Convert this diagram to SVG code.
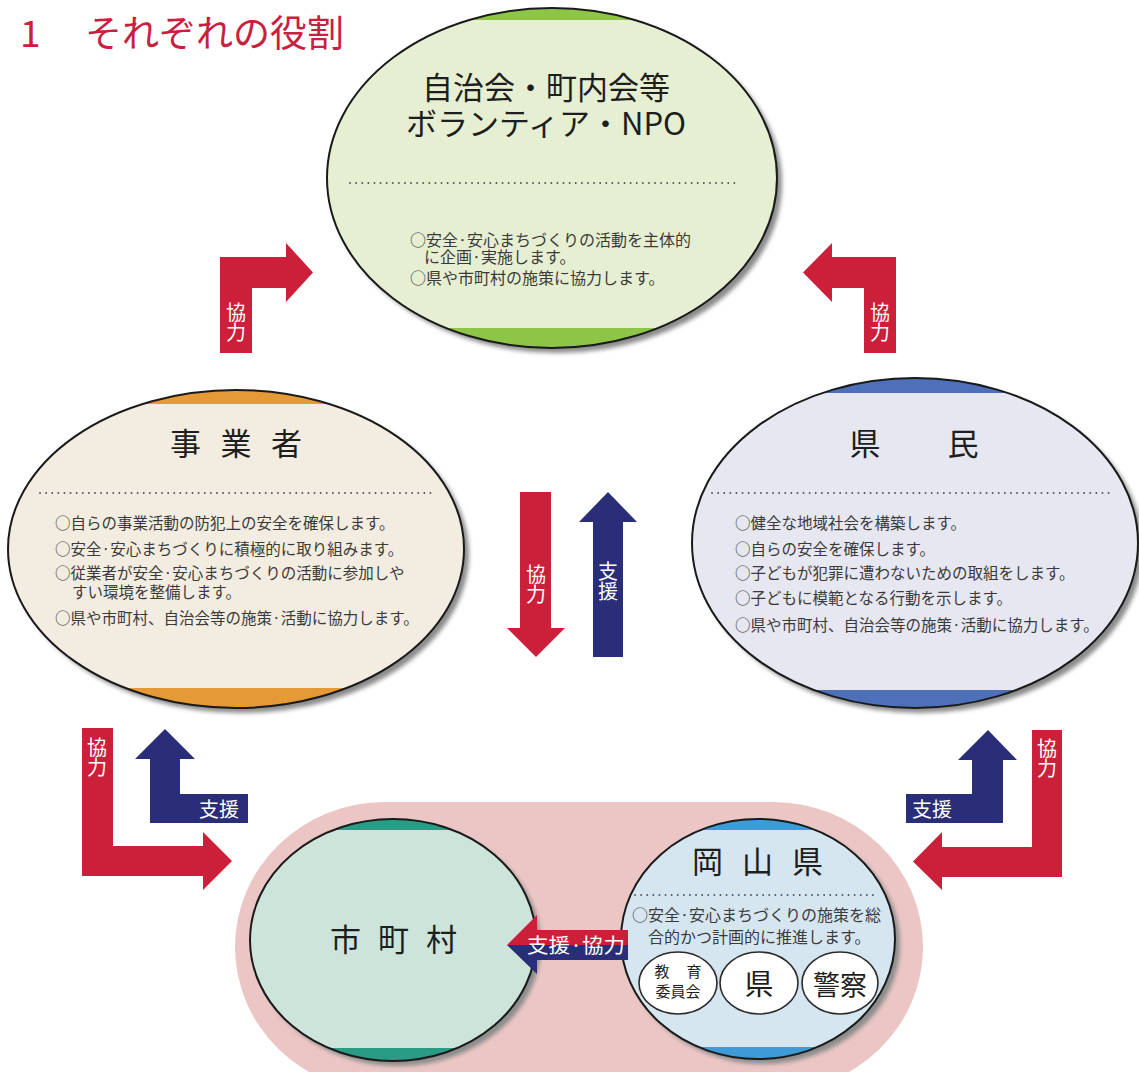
<svg xmlns="http://www.w3.org/2000/svg" width="1139" height="1072" viewBox="0 0 1139 1072">
<style>
text{font-family:"Noto Sans CJK JP","Noto Sans",sans-serif;}
.ttl{font-size:31px;fill:#1e1e1e;}
.body{font-size:15.5px;fill:#3a3a3a;}
.body16{font-size:16px;fill:#3a3a3a;}
.lbl{font-size:20px;fill:#ffffff;}
.vlbl{font-size:20px;fill:#ffffff;writing-mode:vertical-rl;}
.edge{stroke:#1a1a1a;stroke-width:2;}
.dots{stroke:#555;stroke-width:1.8;stroke-linecap:round;stroke-dasharray:0.1 6;fill:none;}
.red{fill:#cb1f3a;}
.navy{fill:#2a2e78;}
.shadow{fill:#8c8c8c;filter:url(#blur);}
</style>
<defs>
<filter id="blur" x="-10%" y="-10%" width="120%" height="120%"><feGaussianBlur stdDeviation="2.2"/></filter>
<clipPath id="cTop"><ellipse cx="552" cy="178" rx="225" ry="170"/></clipPath>
<clipPath id="cLeft"><ellipse cx="236" cy="549" rx="228" ry="159"/></clipPath>
<clipPath id="cRight"><ellipse cx="915" cy="543" rx="223" ry="165"/></clipPath>
<clipPath id="cShi"><ellipse cx="393" cy="940" rx="143" ry="121"/></clipPath>
<clipPath id="cOka"><ellipse cx="758" cy="939" rx="137" ry="120"/></clipPath>
</defs>
<rect width="1139" height="1072" fill="#ffffff"/>

<g id="title">
<text x="20" y="47" font-size="37" fill="#c8203f">1</text>
<text x="85" y="47" font-size="37" fill="#c8203f">それぞれの役割</text>
</g>

<g id="node-jichikai">
<ellipse class="shadow" cx="557" cy="183" rx="225" ry="170"/>
<ellipse cx="552" cy="178" rx="225" ry="170" fill="#e6efd2"/>
<g clip-path="url(#cTop)">
<rect x="320" y="0" width="470" height="20" fill="#8dc646"/>
<rect x="320" y="328" width="470" height="30" fill="#8dc646"/>
</g>
<ellipse class="edge" cx="552" cy="178" rx="225" ry="170" fill="none"/>
<text class="ttl" x="546" y="99" text-anchor="middle">自治会・町内会等</text>
<text class="ttl" x="546" y="135" text-anchor="middle">ボランティア・NPO</text>
<line class="dots" x1="350" y1="183" x2="740" y2="183"/>
<text class="body16"><tspan x="410" y="246">○安全·安心まちづくりの活動を主体的</tspan><tspan x="424" y="263">に企画·実施します。</tspan></text>
<text class="body16" x="410" y="284">○県や市町村の施策に協力します。</text>
</g>

<g id="node-jigyosha">
<ellipse class="shadow" cx="241" cy="554" rx="228" ry="159"/>
<ellipse cx="236" cy="549" rx="228" ry="159" fill="#f3ece0"/>
<g clip-path="url(#cLeft)">
<rect x="0" y="380" width="470" height="24" fill="#e59a36"/>
<rect x="0" y="688" width="470" height="30" fill="#e59a36"/>
</g>
<ellipse class="edge" cx="236" cy="549" rx="228" ry="159" fill="none"/>
<text class="ttl" x="185.5 236 286.5" y="455" text-anchor="middle">事業者</text>
<line class="dots" x1="40" y1="493" x2="433" y2="493"/>
<text class="body" x="55" y="529">○自らの事業活動の防犯上の安全を確保します。</text>
<text class="body" x="55" y="555">○安全·安心まちづくりに積極的に取り組みます。</text>
<text class="body"><tspan x="55" y="579">○従業者が安全·安心まちづくりの活動に参加しや</tspan><tspan x="72" y="598">すい環境を整備します。</tspan></text>
<text class="body" x="55" y="624">○県や市町村、自治会等の施策·活動に協力します。</text>
</g>

<g id="node-kenmin">
<ellipse class="shadow" cx="920" cy="548" rx="223" ry="165"/>
<ellipse cx="915" cy="543" rx="223" ry="165" fill="#e6e7f0"/>
<g clip-path="url(#cRight)">
<rect x="690" y="370" width="450" height="23" fill="#4d70b9"/>
<rect x="690" y="690" width="450" height="30" fill="#4d70b9"/>
</g>
<ellipse class="edge" cx="915" cy="543" rx="223" ry="165" fill="none"/>
<text class="ttl" x="865 963" y="455" text-anchor="middle">県民</text>
<line class="dots" x1="712" y1="493" x2="1110" y2="493"/>
<text class="body" x="735" y="529">○健全な地域社会を構築します。</text>
<text class="body" x="735" y="555">○自らの安全を確保します。</text>
<text class="body" x="735" y="579">○子どもが犯罪に遭わないための取組をします。</text>
<text class="body" x="735" y="604">○子どもに模範となる行動を示します。</text>
<text class="body" x="735" y="631">○県や市町村、自治会等の施策·活動に協力します。</text>
</g>

<g id="region-okayama-area">
<rect x="235" y="802" width="688" height="290" rx="150" ry="145" fill="#ebc6c4"/>
</g>

<g id="node-shichoson">
<ellipse class="shadow" cx="398" cy="945" rx="143" ry="121"/>
<ellipse cx="393" cy="940" rx="143" ry="121" fill="#cde4da"/>
<g clip-path="url(#cShi)">
<rect x="240" y="810" width="310" height="20" fill="#2a9c86"/>
<rect x="240" y="1048" width="310" height="20" fill="#2a9c86"/>
</g>
<ellipse class="edge" cx="393" cy="940" rx="143" ry="121" fill="none"/>
<text class="ttl" x="345.5 393.5 441.5" y="951" text-anchor="middle">市町村</text>
</g>

<g id="node-okayama">
<ellipse class="shadow" cx="763" cy="944" rx="137" ry="120"/>
<ellipse cx="758" cy="939" rx="137" ry="120" fill="#d6e6f1"/>
<g clip-path="url(#cOka)">
<rect x="615" y="810" width="290" height="20" fill="#3f9bd8"/>
<rect x="615" y="1047" width="290" height="20" fill="#3f9bd8"/>
</g>
<ellipse class="edge" cx="758" cy="939" rx="137" ry="120" fill="none"/>
<text class="ttl" x="707.5 757.5 807.5" y="873" text-anchor="middle">岡山県</text>
<line class="dots" x1="635" y1="895" x2="875" y2="895"/>
<text class="body16"><tspan x="632" y="921">○安全·安心まちづくりの施策を総</tspan><tspan x="648" y="943">合的かつ計画的に推進します。</tspan></text>
<g id="node-kyoiku">
<ellipse cx="678" cy="983" rx="39" ry="31" fill="#ffffff" stroke="#2a2a2a" stroke-width="1.6"/>
<text font-size="15" fill="#1e1e1e" text-anchor="middle"><tspan x="662 694" y="977">教育</tspan><tspan x="678" y="997">委員会</tspan></text>
</g>
<g id="node-ken">
<ellipse cx="759" cy="983" rx="39" ry="31" fill="#ffffff" stroke="#2a2a2a" stroke-width="1.6"/>
<text x="759" y="995" font-size="29" fill="#1e1e1e" text-anchor="middle">県</text>
</g>
<g id="node-keisatsu">
<ellipse cx="840" cy="983" rx="38" ry="31" fill="#ffffff" stroke="#2a2a2a" stroke-width="1.6"/>
<text x="840" y="995" font-size="27" fill="#1e1e1e" text-anchor="middle">警察</text>
</g>
</g>

<g id="connectors">
<g id="arrow-jigyosha-jichikai">
<path class="red" d="M220,353 L220,257 L286,257 L286,243 L313,272.5 L286,302 L286,288 L252,288 L252,353 Z"/>
<text class="vlbl" x="236" y="302">協力</text>
</g>
<g id="arrow-kenmin-jichikai">
<path class="red" d="M896,353 L896,257 L832,257 L832,243 L803,272.5 L832,302 L832,288 L864,288 L864,353 Z"/>
<text class="vlbl" x="880" y="302">協力</text>
</g>
<g id="arrow-kyoryoku-down">
<path class="red" d="M520,492 L551,492 L551,628 L565,628 L536,657 L507,628 L520,628 Z"/>
<text class="vlbl" x="536" y="564">協力</text>
</g>
<g id="arrow-shien-up">
<path class="navy" d="M593,657 L623,657 L623,522 L637,522 L608,492 L579,522 L593,522 Z"/>
<text class="vlbl" x="608" y="561">支援</text>
</g>
<g id="arrow-jigyosha-shichoson">
<path class="red" d="M82,728 L113,728 L113,846 L203,846 L203,832 L232,861 L203,890 L203,876 L82,876 Z"/>
<text class="vlbl" x="97" y="737">協力</text>
</g>
<g id="arrow-shichoson-jigyosha">
<path class="navy" d="M150,823 L150,759 L135,759 L165,729 L195,759 L180,759 L180,794 L248,794 L248,823 Z"/>
<text class="lbl" x="219" y="817" text-anchor="middle">支援</text>
</g>
<g id="arrow-okayama-kenmin">
<path class="navy" d="M1003,823 L1003,760 L1017,760 L988,730 L958,760 L972,760 L972,794 L906,794 L906,823 Z"/>
<text class="lbl" x="932" y="817" text-anchor="middle">支援</text>
</g>
<g id="arrow-kenmin-okayama">
<path class="red" d="M1062,730 L1032,730 L1032,847 L942,847 L942,832 L913,861.5 L942,890 L942,877 L1062,877 Z"/>
<text class="vlbl" x="1047" y="738">協力</text>
</g>
<g id="arrow-okayama-shichoson">
<path class="red" d="M628,930 L537,930 L537,915 L507,945 L628,945 Z"/>
<path class="navy" d="M628,945 L507,945 L537,974 L537,960 L628,960 Z"/>
<text class="lbl" x="576" y="953" font-size="21" text-anchor="middle" textLength="98" lengthAdjust="spacingAndGlyphs">支援·協力</text>
</g>
</g>
</svg>
